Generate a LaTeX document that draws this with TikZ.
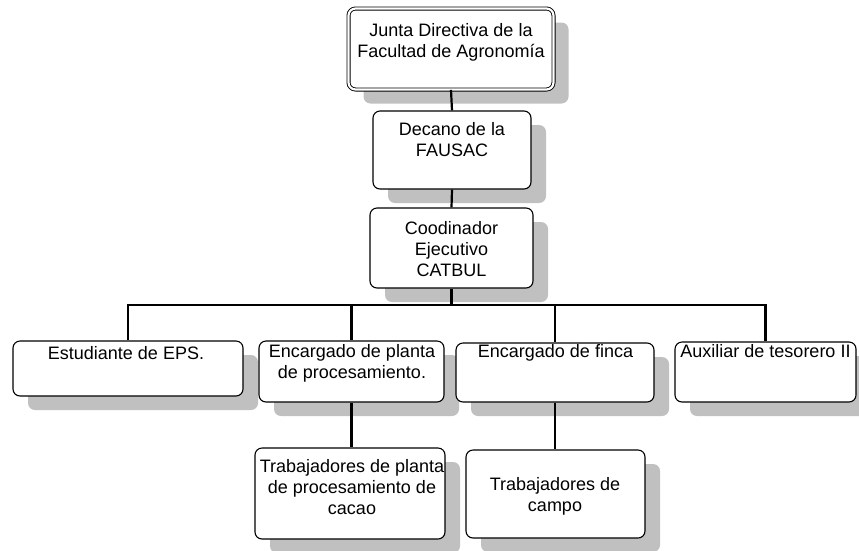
\documentclass[tikz,border=0pt]{standalone}
\usepackage{fontspec}
\setmainfont{Liberation Sans}
\usetikzlibrary{shadows}
\definecolor{shadowgray}{RGB}{192,192,192}
\begin{document}
\begin{tikzpicture}[x=1pt,y=-1pt,
  box/.style={draw, rounded corners=7pt, fill=white, line width=1.1pt, inner sep=0pt,
    drop shadow={shadow xshift=15pt, shadow yshift=-14pt, fill=shadowgray, opacity=1}},
  topbox/.style={box, double, double distance=2.2pt, line width=0.9pt},
  txt/.style={align=center, inner sep=0pt, font=\fontsize{18}{21}\selectfont},
  conn/.style={draw, line width=2.2pt}]
\useasboundingbox (0,0) rectangle (859,550);
% boxes
\node[topbox, minimum width=205pt, minimum height=81pt] (jd) at (451,49) {};
\node[box, minimum width=158pt, minimum height=78pt] (dec) at (452,150) {};
\node[box, minimum width=163pt, minimum height=80pt] (coo) at (451.5,248) {};
\node[box, minimum width=230pt, minimum height=55pt] (est) at (128,368.5) {};
\node[box, minimum width=185pt, minimum height=61pt] (pla) at (351.5,371.5) {};
\node[box, minimum width=198pt, minimum height=59pt] (fin) at (555,372.5) {};
\node[box, minimum width=181pt, minimum height=60pt] (aux) at (765.5,372) {};
\node[box, minimum width=190pt, minimum height=91pt] (tpl) at (350,493.5) {};
\node[box, minimum width=179pt, minimum height=88pt] (tca) at (555.5,494) {};
% texts
\node[txt] (jdt) at (451,42) {Junta Directiva de la\\Facultad de Agronomía};
\node[txt] (dect) at (452,140) {Decano de la\\FAUSAC};
\node[txt] (coot) at (451.5,249) {Coodinador\\Ejecutivo\\CATBUL};
\node[txt] (estt) at (126,353) {Estudiante de EPS.};
\node[txt] (plat) at (352,363.5) {Encargado de planta\\de procesamiento.};
\node[txt] (fint) at (555.5,353) {Encargado de finca};
\node[txt] (auxt) at (765.5,351) {Auxiliar de tesorero II};
\node[txt] (tplt) at (352,487.5) {Trabajadores de planta\\de procesamiento de\\cacao};
\node[txt] (tcat) at (555,496) {Trabajadores de\\campo};
% connectors
\coordinate (bus) at (452,305);
\draw[conn] (jd.south) -- (dec.north);
\draw[conn] (dec.south) -- (coo.north);
\draw[conn] (coo.south) -- (coo.south |- bus);
\draw[conn] (est.north) |- (aux.north |- bus) -- (aux.north);
\draw[conn] (pla.north) -- (pla.north |- bus);
\draw[conn] (fin.north) -- (fin.north |- bus);
\draw[conn] (pla.south) -- (pla.south |- tpl.north);
\draw[conn] (fin.south) -- (fin.south |- tca.north);
\end{tikzpicture}
\end{document}
